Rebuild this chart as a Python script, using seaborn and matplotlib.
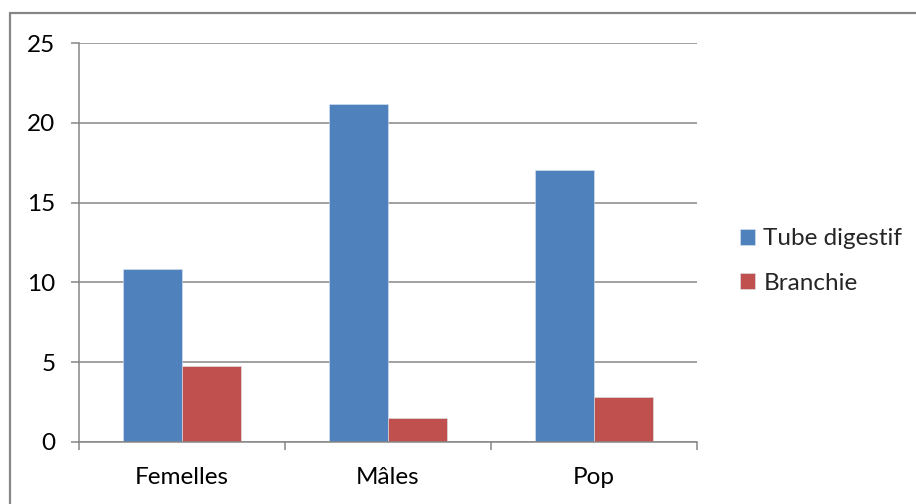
import matplotlib
matplotlib.use("Agg")
import matplotlib.pyplot as plt
from matplotlib.lines import Line2D
import seaborn as sns
import pandas as pd

# Data
categories = ["Femelles", "Mâles", "Pop"]
tube_digestif = [10.85, 21.18, 17.05]
branchie = [4.76, 1.50, 2.79]
series_names = ["Tube digestif", "Branchie"]
y_ticks = [0, 5, 10, 15, 20, 25]

df = pd.DataFrame({
    "cat": categories * 2,
    "val": tube_digestif + branchie,
    "serie": [series_names[0]] * 3 + [series_names[1]] * 3,
})

sns.set_theme(style="white")
plt.rcParams["font.family"] = ["Lato", "DejaVu Sans"]

W, H = 916, 504
fig = plt.figure(figsize=(W / 100, H / 100), dpi=100)
ax = fig.add_axes([79 / W, 1 - 442 / H, (697 - 79) / W, (442 - 43) / H])

grid_col = "#868686"
palette = {series_names[0]: "#4F81BD", series_names[1]: "#C0504D"}

sns.barplot(data=df, x="cat", y="val", hue="serie", palette=palette,
            width=0.573, gap=0, saturation=1, ax=ax,
            edgecolor="#dce6f2", linewidth=0.4)

ax.set_xlim(-0.5, 2.5)
ax.set_ylim(0, 25)
ax.set_yticks(y_ticks)
ax.set_yticklabels([str(t) for t in y_ticks])
ax.set_xlabel("")
ax.set_ylabel("")

# horizontal gridlines
ax.yaxis.grid(True, color=grid_col, linewidth=1.1)
ax.set_axisbelow(True)

for s in ["top", "right"]:
    ax.spines[s].set_visible(False)
for s in ["left", "bottom"]:
    ax.spines[s].set_color(grid_col)
    ax.spines[s].set_linewidth(1.1)

# category ticks sit at the boundaries between groups
ax.set_xticks([-0.5, 0.5, 1.5, 2.5], minor=False)
ax.set_xticklabels([])
ax.set_xticks([0, 1, 2], minor=True)
ax.set_xticklabels(categories, minor=True)
ax.tick_params(axis="x", which="major", direction="out", length=6,
               width=1.1, color=grid_col, bottom=True)
ax.tick_params(axis="x", which="minor", length=0, pad=18, labelsize=17.5,
               labelcolor="black")
ax.tick_params(axis="y", direction="out", length=6, width=1.1,
               color=grid_col, left=True, pad=11, labelsize=17.5,
               labelcolor="black")

# legend on the right
handles, labels = ax.get_legend_handles_labels()
ax.legend(handles, labels, loc="center left",
          bbox_to_anchor=(740 / W, 1 - 261 / H), bbox_transform=fig.transFigure,
          frameon=False, fontsize=17.5, handlelength=0.63, handleheight=0.63,
          handletextpad=0.33, labelspacing=0.95, borderpad=0, borderaxespad=0)

# chart area border (top and left edges)
fig.add_artist(Line2D([10 / W, 10 / W], [1 - 13 / H, 0], color=grid_col,
                      linewidth=1.6, transform=fig.transFigure))
fig.add_artist(Line2D([10 / W, 1], [1 - 13 / H, 1 - 13 / H], color=grid_col,
                      linewidth=1.6, transform=fig.transFigure))

fig.savefig("out.png", dpi=100)
